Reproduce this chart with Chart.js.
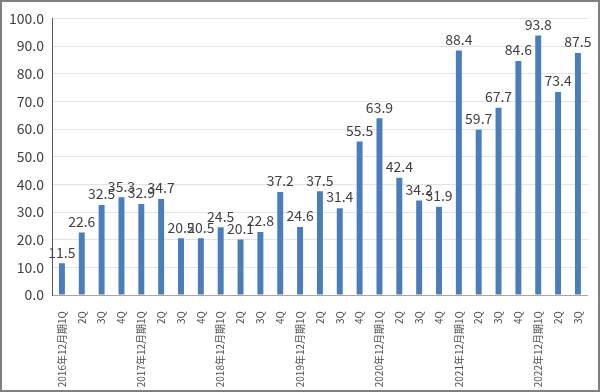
<!DOCTYPE html>
<html>
<head>
<meta charset="utf-8">
<script src="https://cdn.jsdelivr.net/npm/chart.js@4"></script>
<style>
  html, body { margin: 0; padding: 0; background: #fff; }
  #wrap { width: 596px; height: 388px; border: 2px solid #7f7f7f; }
</style>
</head>
<body>
<div id="wrap"><canvas id="chart" width="596" height="388"></canvas></div>
<script>
// Quarter labels
const categories = [
    "2016年12月期1Q", "2Q", "3Q", "4Q",
    "2017年12月期1Q", "2Q", "3Q", "4Q",
    "2018年12月期1Q", "2Q", "3Q", "4Q",
    "2019年12月期1Q", "2Q", "3Q", "4Q",
    "2020年12月期1Q", "2Q", "3Q", "4Q",
    "2021年12月期1Q", "2Q", "3Q", "4Q",
    "2022年12月期1Q", "2Q", "3Q"
];

// Values per quarter
const values = [
    11.5, 22.6, 32.5, 35.3,
    32.9, 34.7, 20.5, 20.5,
    24.5, 20.1, 22.8, 37.2,
    24.6, 37.5, 31.4, 55.5,
    63.9, 42.4, 34.2, 31.9,
    88.4, 59.7, 67.7, 84.6,
    93.8, 73.4, 87.5
];

const yMin = 0;
const yMax = 100;
const yStep = 10;

const fontFamily = "'Noto Sans CJK JP', 'DejaVu Sans', sans-serif";

// Draw value labels above each bar
const valueLabels = {
    id: 'valueLabels',
    afterDatasetsDraw(chart) {
        const ctx = chart.ctx;
        const meta = chart.getDatasetMeta(0);
        ctx.save();
        ctx.font = "14px " + fontFamily;
        ctx.fillStyle = '#404040';
        ctx.textAlign = 'center';
        ctx.textBaseline = 'bottom';
        meta.data.forEach((bar, i) => {
            ctx.fillText(values[i].toFixed(1), bar.x, bar.y - 4);
        });
        ctx.restore();
    }
};

const ctx = document.getElementById('chart').getContext('2d');
const chart = new Chart(ctx, {
    type: 'bar',
    data: {
        labels: categories,
        datasets: [{
            data: values,
            backgroundColor: '#4a7ebb',
            barPercentage: 0.3,
            categoryPercentage: 1.0
        }]
    },
    options: {
        responsive: false,
        animation: false,
        layout: { padding: { top: 8, right: 4, left: 0, bottom: 0 } },
        plugins: {
            legend: { display: false },
            tooltip: { enabled: false }
        },
        scales: {
            x: {
                grid: { display: false },
                border: { color: '#a6a6a6', width: 1 },
                ticks: {
                    color: '#505050',
                    font: { family: fontFamily, size: 10 },
                    maxRotation: 90,
                    minRotation: 90,
                    padding: 8,
                    autoSkip: false
                },
                afterFit(scale) { scale.height = 95; }
            },
            y: {
                min: yMin,
                max: yMax,
                grid: { color: '#e3e3e3', drawTicks: false },
                border: { color: '#595959', width: 1 },
                ticks: {
                    stepSize: yStep,
                    color: '#404040',
                    padding: 8,
                    font: { family: fontFamily, size: 14 },
                    callback: v => v.toFixed(1)
                },
                afterFit(scale) { scale.width = 50; }
            }
        }
    },
    plugins: [valueLabels]
});
</script>
</body>
</html>
